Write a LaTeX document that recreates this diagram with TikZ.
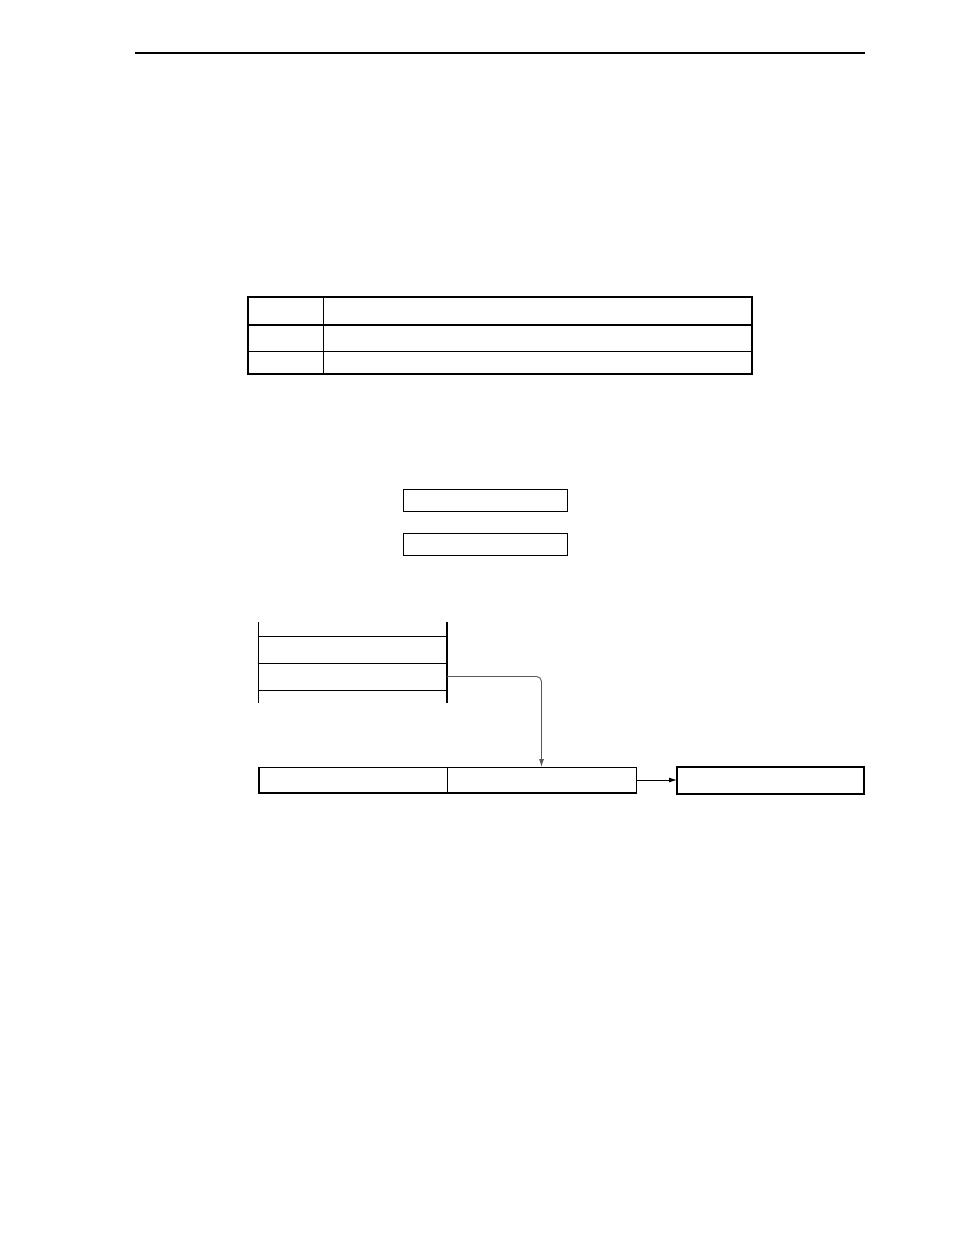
\documentclass[tikz,border=0pt]{standalone}
\usepackage{tikz}
\usetikzlibrary{arrows.meta,positioning}

\begin{document}
\begin{tikzpicture}[x=1pt,y=-1pt]
			\tikzstyle{Cell}	= [rectangle, draw, line width=1pt, inner sep=0pt, outer sep=0pt]
			\tikzstyle{Slot}	= [rectangle, inner sep=0pt, outer sep=0pt, minimum width=189pt]
			\tikzstyle{Box}		= [Cell, minimum width=164pt, minimum height=22pt]
			\tikzstyle{Reg}		= [Cell, minimum height=26pt]
			\tikzstyle{Heavy}	= [line width=2pt]
			\tikzstyle{Link}	= [line width=0.9pt, -{Latex[length=8pt,width=5pt]}]

			\useasboundingbox (0,0) rectangle (954,1235);

			% page rule
			\coordinate (ruleL) at (135,53);
			\coordinate (ruleR) at (865,53);
			\draw [line width=1.2pt] (ruleL) -- (ruleR);

			% table
			\node (t00) at (285.5,311) [Cell][minimum width=75pt, minimum height=28pt] {};
			\node (t01) at (537.5,311) [Cell][minimum width=429pt, minimum height=28pt] {};
			\node (t10) at (285.5,338) [Cell][minimum width=75pt, minimum height=26pt] {};
			\node (t11) at (537.5,338) [Cell][minimum width=429pt, minimum height=26pt] {};
			\node (t20) at (285.5,362.5) [Cell][minimum width=75pt, minimum height=23pt] {};
			\node (t21) at (537.5,362.5) [Cell][minimum width=429pt, minimum height=23pt] {};
			\draw [Heavy] (t00.north west) rectangle (t21.south east);
			\draw [Heavy] (t10.north west) -- (t11.north east);

			% two boxes
			\node (b1) at (485,500) [Box] {};
			\node (b2) at (485,544) [Box] {};

			% stack
			\node (s0) at (352.5,629) [Slot][minimum height=14pt] {};
			\node (s1) at (352.5,649.5) [Slot][minimum height=27pt] {};
			\node (s2) at (352.5,676.5) [Slot][minimum height=27pt] {};
			\node (s3) at (352.5,696.5) [Slot][minimum height=13pt] {};
			\draw [line width=1pt] (s0.north west) -- (s3.south west);
			\draw [Heavy] (s0.north east) -- (s3.south east);
			\draw [line width=1pt] (s1.north west) -- (s1.north east);
			\draw [line width=1pt] (s2.north west) -- (s2.north east);
			\draw [line width=1pt] (s3.north west) -- (s3.north east);

			% registers
			\node (lo) at (353,780) [Reg][minimum width=188pt] {};
			\node (hi) at (541.5,780) [Reg][minimum width=189pt] {};
			\node (out) at (770.5,780) [Reg][Heavy][minimum width=187pt, minimum height=27pt] {};
			\draw [Heavy] (lo.north west) -- (lo.south west) -- (hi.south east);

			% connectors
			\draw [Link, gray!70!black, rounded corners=5pt] (s2.east) -| (hi.north);
			\draw [Link] (hi.east) -- (out.west);
		\end{tikzpicture}
\end{document}
